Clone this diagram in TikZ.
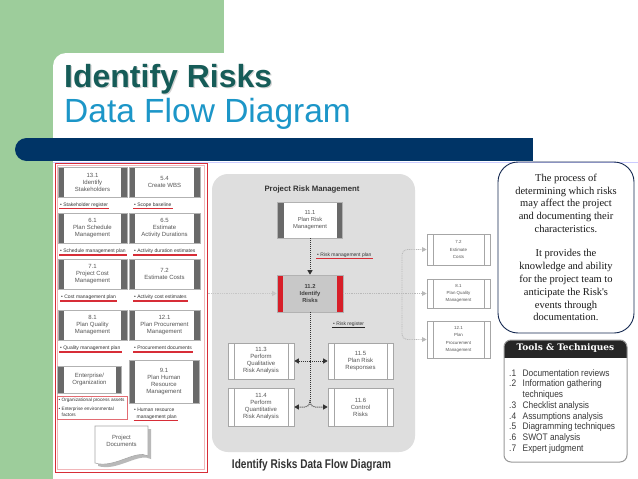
\documentclass[tikz,border=0pt]{standalone}
\usepackage{fontspec}
\setmainfont{Liberation Sans}
\newfontfamily\tmsfont{Liberation Serif}
\newfontfamily\narrowfont[FakeStretch=0.88]{Liberation Sans}
\newfontfamily\condfont[FakeStretch=0.8]{Liberation Sans}
\newfontfamily\slabfont{DejaVu Serif}
\newfontfamily\titlefont{Liberation Sans}
\usetikzlibrary{arrows.meta,calc}
\definecolor{slgreen}{RGB}{157,205,155}
\definecolor{barnavy}{RGB}{0,52,102}
\definecolor{ttlteal}{RGB}{22,92,88}
\definecolor{ttlblue}{RGB}{28,150,200}
\definecolor{framered}{RGB}{215,45,55}
\definecolor{bargray}{RGB}{105,105,105}
\definecolor{panelgray}{RGB}{222,222,222}
\definecolor{txtgray}{RGB}{85,85,85}
\definecolor{calnavy}{RGB}{20,40,80}
\definecolor{idred}{RGB}{215,30,40}
\definecolor{idfill}{RGB}{200,200,200}
\definecolor{toolgray}{RGB}{58,58,58}
\newcommand{\ulbl}[5]{%
  \node[lbl] (#1) at (#2,#3) {\textbullet\ #4};
  \draw[line width=1.2pt, #5] ($(#1.base west)+(-1,2.4)$) -- ($(#1.base east)+(1,2.4)$);}
\tikzset{
  base/.style={rectangle, inner sep=0pt, align=center, text=txtgray, font=\fontsize{6}{7}\selectfont},
  dbox/.style={base, draw=gray!60, fill=white, line width=0.6pt, path picture={
     \fill[#1] (path picture bounding box.north west) rectangle ([xshift=6pt]path picture bounding box.south west);
     \fill[#1] (path picture bounding box.north east) rectangle ([xshift=-6pt]path picture bounding box.south east);}},
  dbox/.default=bargray,
  lbox/.style={base, draw=gray!70, fill=white, line width=0.6pt, path picture={
     \draw[gray!70, line width=0.6pt] ([xshift=6pt]path picture bounding box.north west) -- ([xshift=6pt]path picture bounding box.south west);
     \draw[gray!70, line width=0.6pt] ([xshift=-6pt]path picture bounding box.north east) -- ([xshift=-6pt]path picture bounding box.south east);}},
  lbl/.style={anchor=base west, inner sep=0pt, font=\fontsize{5}{6}\selectfont, text=black!80},
  gdot/.style={draw=gray!55, line width=0.9pt, dash pattern=on 0.9pt off 0.9pt, -{Triangle[length=4.5pt,width=4.5pt,fill=gray!55]}},
  bdot/.style={draw=black!80, line width=1pt, dash pattern=on 1pt off 1pt},
  bdotA/.style={bdot, -{Triangle[length=4.5pt,width=5pt]}},
  item/.style={anchor=base west, inner sep=0pt, font=\narrowfont\fontsize{9.5}{10}\selectfont, text=toolgray},
}
\begin{document}
\begin{tikzpicture}[x=1pt,y=-1pt]
\useasboundingbox (0,0) rectangle (638,479);
\fill[white] (0,0) rectangle (638,479);
% green frame
\fill[slgreen] (0,0) rectangle (224,53);
\fill[slgreen] (0,0) rectangle (53,479);
\fill[slgreen] (53,53) rectangle (66,66);
\fill[white] (66,66) circle (13);
% title
\node[anchor=base west, inner sep=0pt, font=\titlefont\fontsize{32}{32}\selectfont\bfseries, text=black!35, opacity=0.5] (t1s) at (65.2,88.2) {Identify Risks};
\node[anchor=base west, inner sep=0pt, font=\titlefont\fontsize{32}{32}\selectfont\bfseries, text=ttlteal] (t1) at (64,87) {Identify Risks};
\node[anchor=base west, inner sep=0pt, font=\titlefont\fontsize{33.5}{34}\selectfont, text=ttlblue] (t2) at (64,122) {Data Flow Diagram};
% navy bar
\fill[barnavy] (26.5,138) rectangle (533,161);
\fill[barnavy] (26.5,149.5) circle (11.5);
\draw[blue!20, line width=0.8pt] (53,162.6) -- (638,162.6);
% inputs frame
\node[draw=framered, line width=1pt, minimum width=152pt, minimum height=309pt, inner sep=0pt] (inputs) at (131,317.5) {};
\draw[framered!35, line width=0.6pt] (57.5,165.5) rectangle (204.5,469.5);
% input boxes
\node[dbox, minimum width=69pt, minimum height=30pt] (s131) at (92.5,182) {13.1\\Identify\\Stakeholders};
\node[dbox, minimum width=71pt, minimum height=30pt] (s54) at (164.5,182) {5.4\\Create WBS};
\node[dbox, minimum width=69pt, minimum height=30pt] (s61) at (92.5,228) {6.1\\Plan Schedule\\Management};
\node[dbox, minimum width=71pt, minimum height=30pt] (s65) at (164.5,228) {6.5\\Estimate\\Activity Durations};
\node[dbox, minimum width=69pt, minimum height=30pt] (s71) at (92.5,274) {7.1\\Project Cost\\Management};
\node[dbox, minimum width=71pt, minimum height=30pt] (s72) at (164.5,274) {7.2\\Estimate Costs};
\node[dbox, minimum width=69pt, minimum height=30pt] (s81) at (92.5,325) {8.1\\Plan Quality\\Management};
\node[dbox, minimum width=71pt, minimum height=30pt] (s121) at (164.5,325) {12.1\\Plan Procurement\\Management};
\node[dbox, minimum width=64pt, minimum height=27pt, font=\fontsize{6}{7.6}\selectfont] (ent) at (89.5,379.5) {Enterprise/\\Organization};
\node[dbox, minimum width=70pt, minimum height=43pt, font=\fontsize{6}{7.2}\selectfont] (s91) at (164,381.5) {9.1\\Plan Human\\Resource\\Management};
% input labels
\ulbl{l1}{60}{206}{Stakeholder register}{framered}
\ulbl{l2}{134}{206}{Scope baseline}{framered}
\ulbl{l3}{60}{252.5}{Schedule management plan}{framered}
\ulbl{l4}{134}{252.5}{Activity duration estimates}{framered}
\ulbl{l5}{61}{298.5}{Cost management plan}{framered}
\ulbl{l6}{134}{298.5}{Activity cost estimates}{framered}
\ulbl{l7}{60}{349.5}{Quality management plan}{framered}
\ulbl{l8}{134}{349.5}{Procurement documents}{framered}
\node[lbl] (l9a) at (134,411) {\textbullet\ Human resource};
\node[lbl] (l9b) at (136.5,418) {management plan};
\draw[line width=1.2pt, framered] ($(l9b.base west)+(-3,2.6)$) -- ($(l9b.base east)+(1,2.6)$);
% OPA / EEF box
\node[draw=framered!70, line width=0.6pt, minimum width=70pt, minimum height=23pt, inner sep=0pt] (opa) at (92,407.5) {};
\node[lbl, font=\fontsize{4.7}{5.5}\selectfont] (o1) at (58.5,401.5) {\textbullet\ Organizational process assets};
\node[lbl, font=\fontsize{4.7}{5.5}\selectfont] (o2) at (58.5,410) {\textbullet\ Enterprise environmental};
\node[lbl, font=\fontsize{4.7}{5.5}\selectfont] (o3) at (61.5,416.5) {factors};
% project documents
\fill[gray!55] (98,429) -- (151,429) -- (151,459) .. controls (139,452) and (117,472) .. (98,466) -- cycle;
\filldraw[fill=white, draw=gray!70, line width=0.6pt] (95,426) -- (148,426) -- (148,456) .. controls (136,449) and (114,469) .. (95,463) -- cycle;
\node[base] (pdoc) at (121.5,441) {Project\\Documents};
% central panel
\node[fill=panelgray, rounded corners=16pt, minimum width=203pt, minimum height=278pt, inner sep=0pt] (panel) at (313.5,313) {};
\node[inner sep=0pt, font=\fontsize{7.8}{9}\selectfont\bfseries, text=black!80] (ptitle) at (312,189) {Project Risk Management};
\node[dbox, minimum width=65pt, minimum height=36pt, font=\fontsize{5.8}{6.8}\selectfont] (r111) at (310,220) {11.1\\Plan Risk\\Management};
\node[dbox=idred, fill=idfill, minimum width=66pt, minimum height=37pt, font=\fontsize{5.8}{6.8}\selectfont\bfseries, text=black!75] (id) at (310,293.5) {11.2\\Identify\\Risks};
\draw[bdotA] (r111.south) -- (id.north);
\ulbl{rmp}{317}{256}{Risk management plan}{framered}
% outputs in panel
\node[lbox, minimum width=66pt, minimum height=36pt] (q3) at (261,361) {11.3\\Perform\\Qualitative\\Risk Analysis};
\node[lbox, minimum width=65pt, minimum height=36pt] (q5) at (360.5,361) {11.5\\Plan Risk\\Responses};
\node[lbox, minimum width=66pt, minimum height=38pt] (q4) at (261,407) {11.4\\Perform\\Quantitative\\Risk Analysis};
\node[lbox, minimum width=65pt, minimum height=38pt] (q6) at (360.5,407) {11.6\\Control\\Risks};
\ulbl{rr}{333}{325}{Risk register}{black!85}
\coordinate (j1) at (310,361);
\coordinate (j2) at (310,400);
\draw[bdot] (id.south) -- (j2);
\draw[bdotA] (j1) -- (q3.east);
\draw[bdotA] (j1) -- (q5.west);
\draw[bdotA, rounded corners=5pt] (j2) |- (q4.east);
\draw[bdotA, rounded corners=5pt] (j2) |- (q6.west);
% caption
\node[inner sep=0pt, font=\condfont\bfseries\fontsize{12.6}{14}\selectfont, text=black!80] (cap) at (311.5,465) {Identify Risks Data Flow Diagram};
% right side boxes
\node[lbox, minimum width=63pt, minimum height=31pt, font=\fontsize{4.4}{7.3}\selectfont] (c72) at (458.5,249.5) {7.2\\Estimate\\Costs};
\node[lbox, minimum width=63pt, minimum height=29pt, font=\fontsize{4.4}{7.3}\selectfont] (c81) at (458.5,293.5) {8.1\\Plan Quality\\Management};
\node[lbox, minimum width=63pt, minimum height=37pt, font=\fontsize{4.4}{7.3}\selectfont] (c121) at (458.5,339.5) {12.1\\Plan\\Procurement\\Management};
% flows
\draw[gdot, draw=gray!45, -{Triangle[length=4.5pt,width=5pt,fill=gray!40]}] (inputs.east |- id.west) -- (id.west);
\coordinate (split) at (402,293.5);
\draw[gdot] (id.east) -- (c81.west);
\draw[gdot, rounded corners=5pt] (split) |- (c72.west);
\draw[gdot, rounded corners=5pt] (split) |- (c121.west);
% callout
\node[draw=calnavy, line width=0.9pt, rounded corners=20pt, minimum width=136pt, minimum height=171pt, inner sep=0pt, align=center, font=\tmsfont\fontsize{10.5}{12.8}\selectfont, text=black!90] (call) at (566,247.5) {The process of\\determining which risks\\may affect the project\\and documenting their\\characteristics.\\[11.5pt]It provides the\\knowledge and ability\\for the project team to\\anticipate the Risk's\\events through\\documentation.};
% tools & techniques
\begin{scope}
\clip (504,340) rectangle (627,357);
\fill[black!85, rounded corners=7pt] (504,340) rectangle (627,372);
\end{scope}
\node[draw=gray!80, line width=1pt, rounded corners=7pt, minimum width=123pt, minimum height=122pt, inner sep=0pt] (tt) at (565.5,401) {};
\node[inner sep=0pt, font=\slabfont\bfseries\fontsize{9}{10}\selectfont, text=white] (tthead) at (565.5,348.5) {Tools \& Techniques};
\node[item] (n1) at (509,376.2) {.1};
\node[item] (i1) at (522.5,376.2) {Documentation reviews};
\node[item] (n2) at (509,386.9) {.2};
\node[item] (i2) at (522.5,386.9) {Information gathering};
\node[item] (i2b) at (522.5,397.6) {techniques};
\node[item] (n3) at (509,408.3) {.3};
\node[item] (i3) at (522.5,408.3) {Checklist analysis};
\node[item] (n4) at (509,419) {.4};
\node[item] (i4) at (522.5,419) {Assumptions analysis};
\node[item] (n5) at (509,429.7) {.5};
\node[item] (i5) at (522.5,429.7) {Diagramming techniques};
\node[item] (n6) at (509,440.4) {.6};
\node[item] (i6) at (522.5,440.4) {SWOT analysis};
\node[item] (n7) at (509,451.1) {.7};
\node[item] (i7) at (522.5,451.1) {Expert judgment};
\end{tikzpicture}
\end{document}
